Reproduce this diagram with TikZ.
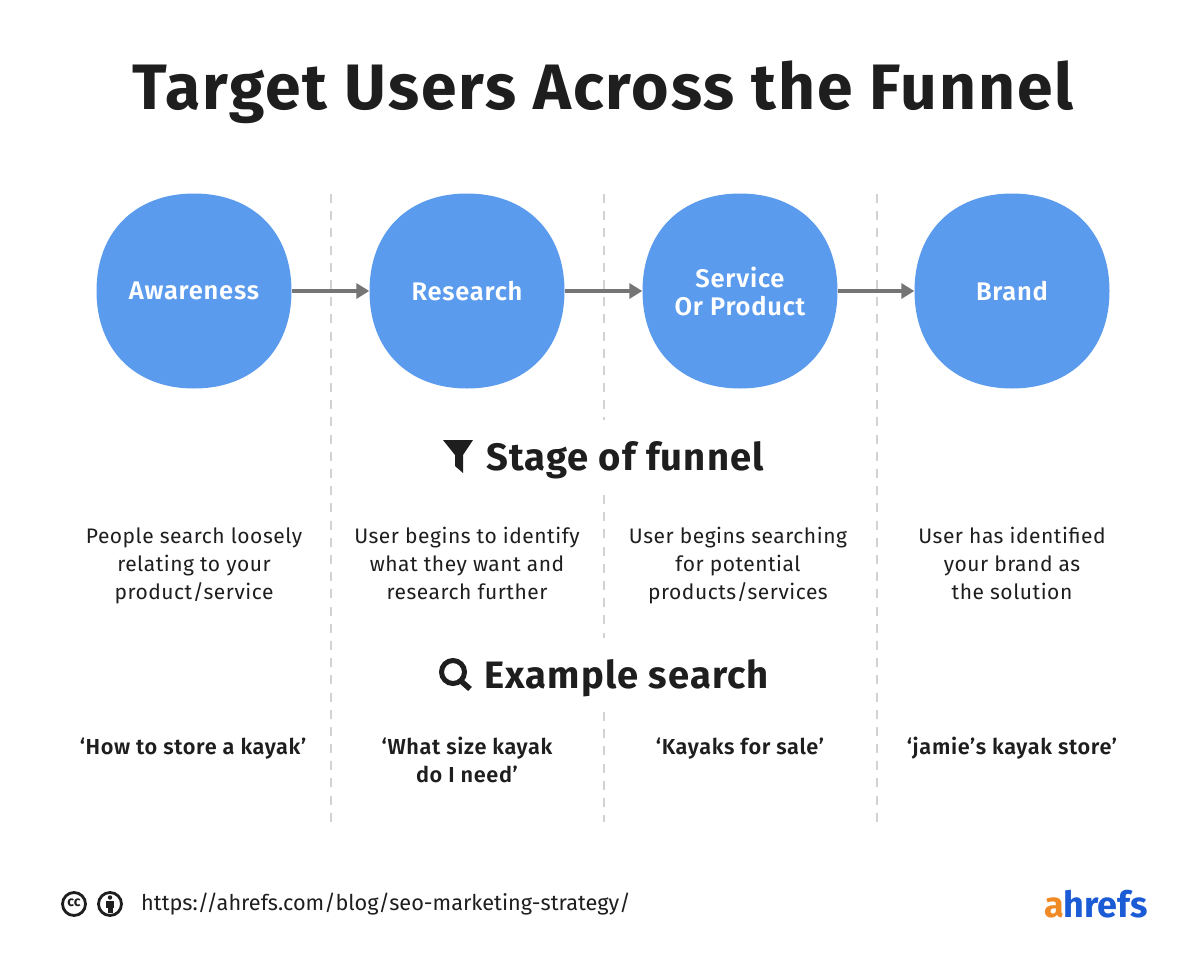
\documentclass[tikz,border=0pt]{standalone}
\usepackage{fontspec}
\setmainfont{Fira Sans}
\newfontfamily\ttlfont[LetterSpace=3]{Fira Sans Bold}
\newfontfamily\labfont[LetterSpace=3,UprightFont=* SemiBold]{Fira Sans}
\newfontfamily\bodyfont[LetterSpace=2.5]{Fira Sans}
\newfontfamily\urlfont{Fira Sans}
\newfontfamily\logofont{Fira Sans}
\definecolor{ink}{HTML}{1E1E1E}
\definecolor{blob}{HTML}{5B9BEE}
\definecolor{arr}{HTML}{757575}
\definecolor{dash}{HTML}{D2D2D2}
\definecolor{logoblue}{HTML}{1C5BD6}
\definecolor{logoorange}{HTML}{F08A24}
\newcommand{\blobat}[2]{%
  \fill[blob] (#1-97.5,#2) .. controls (#1-97.5,#2-59) and (#1-59,#2-97.5) .. (#1,#2-97.5)
   .. controls (#1+59,#2-97.5) and (#1+97.5,#2-59) .. (#1+97.5,#2)
   .. controls (#1+97.5,#2+59) and (#1+59,#2+97.5) .. (#1,#2+97.5)
   .. controls (#1-59,#2+97.5) and (#1-97.5,#2+59) .. (#1-97.5,#2) -- cycle;}
\tikzset{
  stagelabel/.style={circle,minimum size=195pt,inner sep=0pt,text=white,align=center,font=\fontsize{25.5}{28}\labfont},
  flow/.style={draw=arr,line width=3.4pt,-{Triangle[length=13pt,width=15pt]},shorten <=0pt,shorten >=0pt},
  sep/.style={draw=dash,line width=1.3pt,dash pattern=on 9pt off 8.19pt},
  head/.style={text=ink,font=\fontsize{38.2}{42}\ttlfont,inner sep=0pt},
  body/.style={text=ink,align=center,inner sep=0pt,font=\fontsize{21}{28}\bodyfont},
  query/.style={text=ink,align=center,inner sep=0pt,font=\fontsize{21.7}{28}\labfont},
}
\usetikzlibrary{arrows.meta}
\begin{document}
\begin{tikzpicture}[x=1pt,y=-1pt]
\useasboundingbox (0,0) rectangle (1200,962);
\fill[white] (0,0) rectangle (1200,962);
% separators
\draw[sep] (331,194) -- (331,822);
\draw[sep] (604,194) -- (604,420);
\draw[sep] (604,495) -- (604,638);
\draw[sep] (604,712) -- (604,822);
\draw[sep] (877,194) -- (877,822);
% title
\node[text=ink,inner sep=0pt,font=\fontsize{64.2}{68}\ttlfont] (title) at (603,92) {Target Users Across the Funnel};
% blobs
\blobat{194}{291}\blobat{467}{291}\blobat{740}{291}\blobat{1012}{291}
\node[stagelabel] (a) at (194,291) {Awareness};
\node[stagelabel] (r) at (467,291) {Research};
\node[stagelabel] (s) at (740,291) {Service\\Or Product};
\node[stagelabel] (b) at (1012,291) {Brand};
\draw[flow] (a) -- (r);
\draw[flow] (r) -- (s);
\draw[flow] (s) -- (b);
% headings
\fill[ink] (443,440) -- (473,440) -- (463,455) -- (463,473) -- (455,466) -- (455,455) -- cycle;
\node[head,anchor=base west] (h1) at (486,470.5) {Stage of funnel};
\draw[ink,line width=5pt] (453,672) circle (11.5);
\draw[ink,line width=5.5pt] (461,681) -- (470,689);
\node[head,anchor=base west] (h2) at (484,688.5) {Example search};
% body
\node[body,anchor=base] (b1) at (194,599) {People search loosely\\relating to your\\product/service};
\node[body,anchor=base] (b2) at (467,599) {User begins to identify\\what they want and\\research further};
\node[body,anchor=base] (b3) at (738,599) {User begins searching\\for potential\\products/services};
\node[body,anchor=base] (b4) at (1012,599) {User has identified\\your brand as\\the solution};
% queries
\node[query,anchor=base] (q1) at (193,754) {‘How to store a kayak’};
\node[query,anchor=base] (q2) at (467,782) {‘What size kayak\\do I need’};
\node[query,anchor=base] (q3) at (740,754) {‘Kayaks for sale’};
\node[query,anchor=base] (q4) at (1012,754) {‘jamie’s kayak store’};
% footer
\draw[ink,line width=2.8pt] (74,904) circle (11.5);
\node[ink,inner sep=0pt,font=\fontsize{14}{14}\bfseries\urlfont] (cc) at (74,903) {cc};
\draw[ink,line width=2.8pt] (110,904) circle (11.5);
\fill[ink] (110,897.5) circle (2.2);
\fill[ink] (106,901) rectangle (114,908);
\fill[ink] (107.5,908) rectangle (112.5,913);
\node[text=ink,anchor=west,inner sep=0pt,font=\fontsize{21.7}{26}\urlfont] (url) at (141,904) {https://ahrefs.com/blog/seo-marketing-strategy/};
\node[anchor=east,inner sep=0pt,font=\fontsize{36}{40}\bfseries\logofont] (logo) at (1148,904) {\textcolor{logoorange}{a}\textcolor{logoblue}{hrefs}};
\end{tikzpicture}
\end{document}
